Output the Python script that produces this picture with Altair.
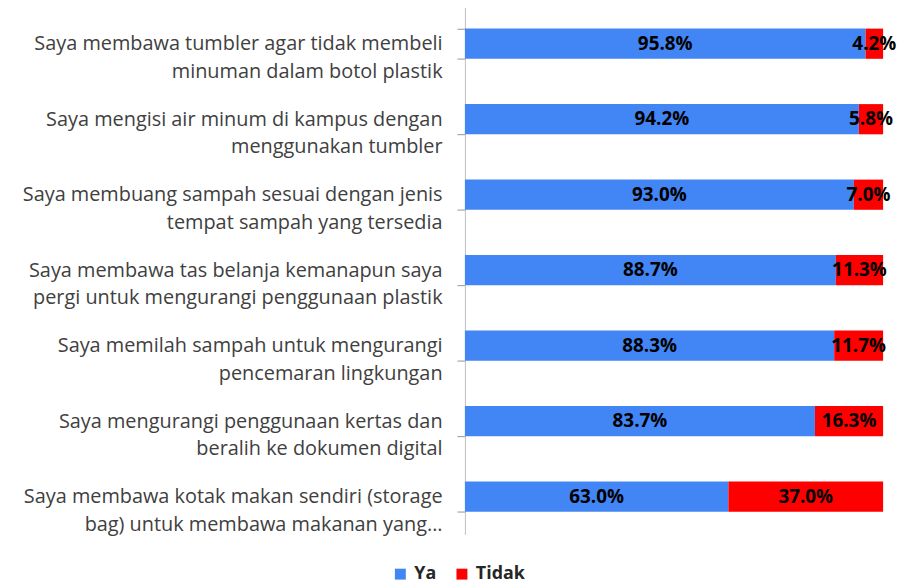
import altair as alt
import pandas as pd

statements = [
    "Saya membawa tumbler agar tidak membeli|minuman dalam botol plastik",
    "Saya mengisi air minum di kampus dengan|menggunakan tumbler",
    "Saya membuang sampah sesuai dengan jenis|tempat sampah yang tersedia",
    "Saya membawa tas belanja kemanapun saya|pergi untuk mengurangi penggunaan plastik",
    "Saya memilah sampah untuk mengurangi|pencemaran lingkungan",
    "Saya mengurangi penggunaan kertas dan|beralih ke dokumen digital",
    "Saya membawa kotak makan sendiri (storage|bag) untuk membawa makanan yang...",
]
ya = [95.8, 94.2, 93.0, 88.7, 88.3, 83.7, 63.0]
tidak = [4.2, 5.8, 7.0, 11.3, 11.7, 16.3, 37.0]
series = ["Ya", "Tidak"]
colors = ["#4285F4", "#FF0000"]

rows = []
for s, a, b in zip(statements, ya, tidak):
    rows.append({"statement": s, "series": "Ya", "value": a, "order": 0})
    rows.append({"statement": s, "series": "Tidak", "value": b, "order": 1})
df = pd.DataFrame(rows)

FONT = "Open Sans"

base = alt.Chart(df).transform_stack(
    stack="value", groupby=["statement"], as_=["v0", "v1"],
    sort=[alt.SortField("order", order="ascending")],
).transform_calculate(
    mid="(datum.v0 + datum.v1) / 2",
    lbl="format(datum.value, '.1f') + '%'",
)

y_enc = alt.Y(
    "statement:N", sort=statements, title=None,
    scale=alt.Scale(paddingInner=0.6, paddingOuter=0.3),
    axis=alt.Axis(
        labelExpr="split(datum.label, '|')",
        labelFont=FONT, labelFontSize=20, labelColor="#404040",
        labelLineHeight=28, labelPadding=15, labelLimit=700,
        ticks=True, tickSize=8, tickColor="#A6A6A6", tickWidth=1.2,
        tickBand="extent", domainColor="#BFBFBF", grid=False,
    ),
)

x_scale = alt.Scale(domain=[0, 100], nice=False)

bars = base.mark_bar().encode(
    y=y_enc,
    x=alt.X("v0:Q", scale=x_scale, axis=None),
    x2="v1:Q",
    color=alt.Color(
        "series:N", sort=series,
        scale=alt.Scale(domain=series, range=colors),
        legend=alt.Legend(
            title=None, orient="none", direction="horizontal",
            legendX=-74, legendY=563, symbolType="square", symbolSize=121,
            symbolStrokeWidth=0, labelFont=FONT, labelFontSize=18,
            labelFontWeight="bold", labelColor="#262626",
            columnPadding=16, labelOffset=5,
        ),
    ),
)

texts = base.mark_text(font=FONT, fontSize=19, fontWeight="bold", color="#000000").encode(
    y=alt.Y("statement:N", sort=statements),
    x=alt.X("mid:Q", scale=x_scale),
    text="lbl:N",
)

chart = alt.layer(bars, texts).properties(
    width=421, height=532,
    autosize=alt.AutoSizeParams(type="none"),
    padding={"left": 460, "top": -4, "right": 16, "bottom": 52},
).configure_view(stroke=None)

chart.save("out.html", embed_options={"renderer": "svg", "actions": False})
